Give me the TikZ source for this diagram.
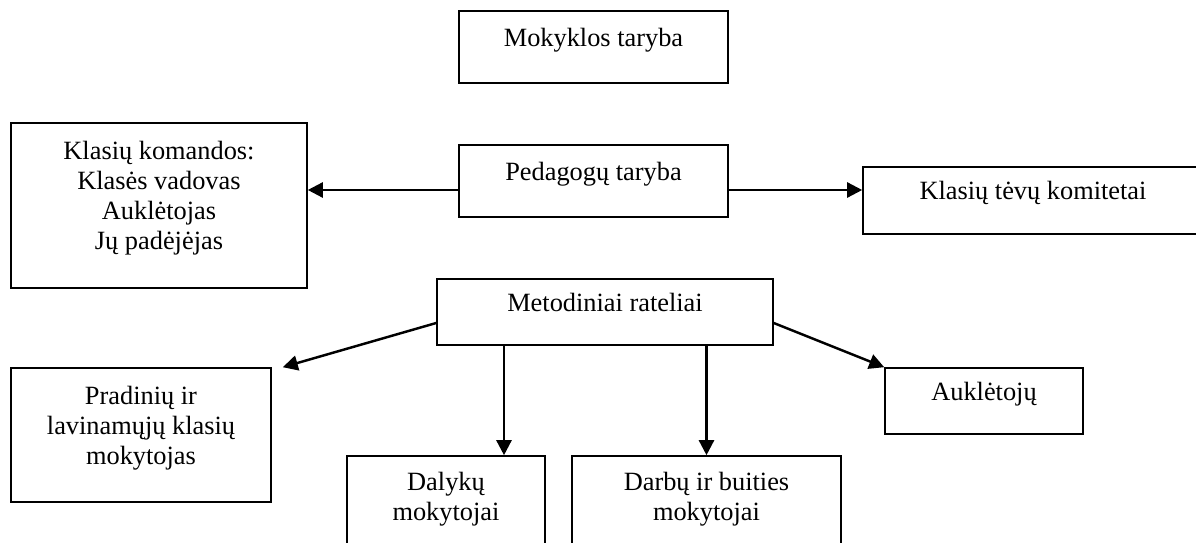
\documentclass[tikz,border=0pt]{standalone}
\usepackage{fontspec}
\setmainfont{Liberation Serif}
\usetikzlibrary{arrows.meta}

\begin{document}
\begin{tikzpicture}[
        box/.style={draw, line width=0.9pt, align=center, inner sep=0pt, text depth=0.4cm, font=\fontsize{15}{17.1}\selectfont},
        arr/.style={-{Triangle[length=0.3cm, width=0.3cm]}, line width=1.4pt}
    ]
        \useasboundingbox (0,0) rectangle (23.92,-10.86);

        % Top boxes
        \node[box, minimum width=5.38cm, minimum height=1.44cm] (mok) at (11.87,-0.94) {Mokyklos taryba};
        \node[box, minimum width=5.38cm, minimum height=1.44cm] (ped) at (11.87,-3.62) {Pedagogų taryba};

        % Side boxes
        \node[box, minimum width=5.92cm, minimum height=3.30cm] (kom) at (3.18,-4.11) {Klasių komandos:\\Klasės vadovas\\Auklėtojas\\Jų padėjėjas};
        \node[box, minimum width=6.80cm, minimum height=1.34cm] (tev) at (20.66,-4.01) {Klasių tėvų komitetai};

        % Arrows from Pedagogų taryba
        \draw[arr] ([yshift=-0.18cm]ped.west) -- ([yshift=-0.18cm]ped.west -| kom.east);
        \draw[arr] ([yshift=-0.18cm]ped.east) -- ([yshift=-0.18cm]ped.east -| tev.west);

        % Metodiniai rateliai
        \node[box, minimum width=6.72cm, minimum height=1.32cm] (met) at (12.10,-6.24) {Metodiniai rateliai};

        % Lower boxes
        \node[box, minimum width=5.20cm, minimum height=2.68cm] (prad) at (2.82,-8.70) {Pradinių ir\\lavinamųjų klasių\\mokytojas};
        \node[box, minimum width=3.96cm, minimum height=1.32cm] (auk) at (19.68,-8.02) {Auklėtojų};
        \node[box, minimum width=3.96cm, minimum height=2.00cm] (dal) at (8.92,-10.12) {Dalykų\\mokytojai};
        \node[box, minimum width=5.38cm, minimum height=2.00cm] (darb) at (14.13,-10.12) {Darbų ir buities\\mokytojai};

        % Arrows from Metodiniai rateliai
        \draw[arr] ([yshift=-0.22cm]met.west) -- ([xshift=0.22cm]prad.north east);
        \draw[arr] (met.south -| 10.08,0) -- (dal.north -| 10.08,0);
        \draw[arr] (met.south -| darb.north) -- (darb.north);
        \draw[arr] ([yshift=-0.22cm]met.east) -- (auk.north west);

    \end{tikzpicture}
\end{document}
